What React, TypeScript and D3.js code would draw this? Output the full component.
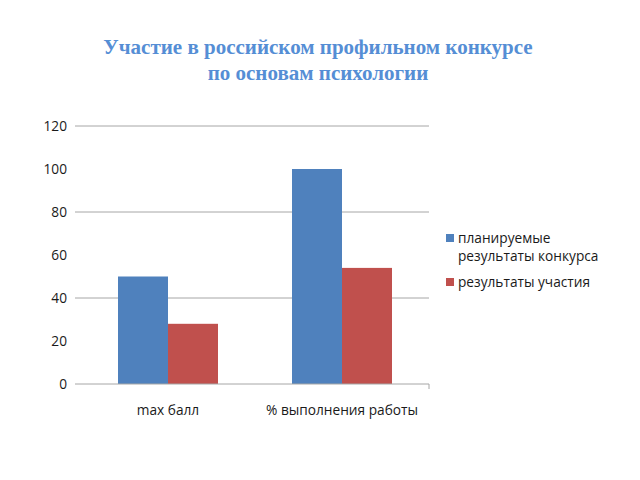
import React from "react";
import * as d3 from "d3";

const categories = ["max балл", "% выполнения работы"];
const seriesNames = ["планируемые результаты конкурса", "результаты участия"];
const planned = [50, 100];
const actual = [28, 54];
const yTicks = [0, 20, 40, 60, 80, 100, 120];
const gridTicks = [40, 80, 120];
const titleLines = ["Участие в российском профильном конкурсе", "по основам психологии"];
const legendLines = [["планируемые", "результаты конкурса"], ["результаты участия"]];
const colors = ["#4F81BD", "#C0504D"];

export default function App() {
  const W = 640, H = 480;
  const left = 75, right = 429;
  const y = d3.scaleLinear().domain([0, 120]).range([384, 126]);
  const x = d3.scaleBand<string>().domain(categories).range([81, 429]).padding(0);
  const inner = d3.scaleBand<number>().domain([0, 1]).range([0, 100]).padding(0);
  const values = [planned, actual];
  const font = "'Open Sans', 'Noto Sans', sans-serif";
  const fs = 13.7;

  return (
    <svg width={W} height={H} style={{ position: "absolute", left: 0, top: 0, background: "#fff" }}>
      <rect width={W} height={H} fill="#fff" />
      {titleLines.map((t, i) => (
        <text key={i} x={318} y={54 + i * 26} textAnchor="middle"
          fontFamily="'Liberation Serif', 'Times New Roman', serif" fontWeight="bold" fontSize={21} fill="#558ED5">{t}</text>
      ))}
      {gridTicks.map(t => (
        <line key={t} x1={left} x2={right} y1={y(t)} y2={y(t)} stroke="#A6A6A6" strokeWidth={1} />
      ))}
      {yTicks.map(t => (
        <text key={t} x={67} y={y(t) + 5} textAnchor="end" fontFamily={font} fontSize={fs} fill="#1a1a1a">{t}</text>
      ))}
      {categories.map((c, ci) => {
        const cx = (x(c) as number) + x.bandwidth() / 2;
        return (
          <g key={c}>
            {values.map((vals, si) => (
              <rect key={si} x={cx - 50 + (inner(si) as number)} width={inner.bandwidth()}
                y={y(vals[ci])} height={y(0) - y(vals[ci])} fill={colors[si]} />
            ))}
            <text x={cx} y={415} textAnchor="middle" fontFamily={font} fontSize={fs} fill="#1a1a1a">{c}</text>
          </g>
        );
      })}
      <line x1={left} x2={right} y1={y(0)} y2={y(0)} stroke="#A6A6A6" strokeWidth={1} />
      <line x1={right} x2={right} y1={y(0)} y2={y(0) + 5} stroke="#A6A6A6" strokeWidth={1} />
      {seriesNames.map((s, si) => {
        const top = si === 0 ? 234 : 278;
        return (
          <g key={s}>
            <rect x={446} y={top} width={8} height={8} fill={colors[si]} />
            {legendLines[si].map((l, li) => (
              <text key={li} x={458} y={top + 8.5 + li * 18.5} fontFamily={font} fontSize={fs} fill="#1a1a1a">{l}</text>
            ))}
          </g>
        );
      })}
    </svg>
  );
}
